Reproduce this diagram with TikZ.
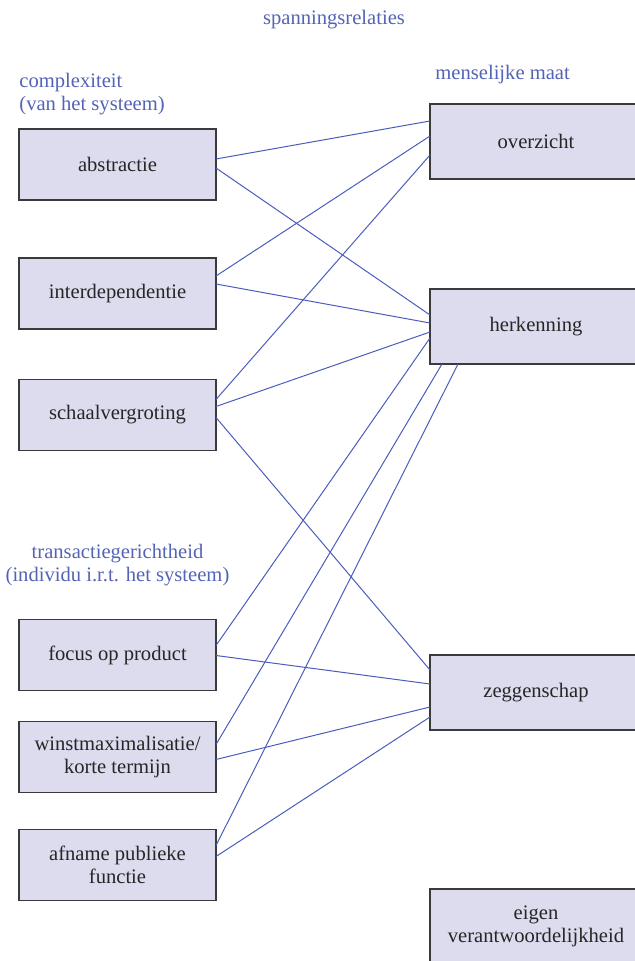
\documentclass[tikz,border=0pt]{standalone}
\usepackage{fontspec}
\setmainfont{Liberation Serif}
\usetikzlibrary{calc}
\definecolor{linkblue}{HTML}{4A5DBB}
\definecolor{headblue}{HTML}{5363B5}
\definecolor{boxfill}{HTML}{DCDCEE}
\definecolor{boxline}{HTML}{3A3A3A}
\tikzset{
  box/.style={draw=boxline, fill=boxfill, line width=0.65pt, rectangle, outer sep=0pt,
    align=center, text=black!85, font=\fontsize{10.3}{11.3}\selectfont},
  lbox/.style={box, minimum width=98.5pt, minimum height=35.5pt},
  rbox/.style={box, minimum width=106pt, minimum height=37.5pt},
  head/.style={text=headblue, font=\fontsize{10.3}{11.5}\selectfont, inner sep=0pt},
  link/.style={draw=linkblue, line width=0.5pt}
}
\begin{document}
\begin{tikzpicture}[x=0.5pt, y=-0.5pt]
\useasboundingbox (0,0) rectangle (635,961);
\begin{scope}
\clip (0,0) rectangle (635,961);
% headings
\node[head] (title) at (334,20) {spanningsrelaties};
\node[head, anchor=west, align=left] (compl) at (19,94) {complexiteit\\(van het systeem)};
\node[head, anchor=west] (mens) at (435,75) {menselijke maat};
\node[head, align=center] (trans) at (117.5,565) {transactiegerichtheid\\(individu i.r.t. het systeem)};
% left boxes
\node[lbox] (abs) at (117.5,164.5) {abstractie};
\node[lbox] (inter) at (117.5,293.5) {interdependentie};
\node[lbox] (schaal) at (117.5,415) {schaalvergroting};
\node[lbox] (focus) at (117.5,655) {focus op product};
\node[lbox] (winst) at (117.5,757) {winstmaximalisatie/\\korte termijn};
\node[lbox] (afname) at (117.5,865) {afname publieke\\functie};
% right boxes
\node[rbox] (over) at (536,141.5) {overzicht};
\node[rbox] (herk) at (536,326.5) {herkenning};
\node[rbox] (zeg) at (536,692.5) {zeggenschap};
\node[rbox] (eigen) at (536,926.5) {eigen\\verantwoordelijkheid};
% connectors
\draw[link] ($(abs.north east)+(0,30)$) -- ($(over.north west)+(0,17)$);
\draw[link] ($(abs.north east)+(0,39)$) -- ($(herk.north west)+(0,26)$);
\draw[link] ($(inter.north east)+(0,18)$) -- ($(over.north west)+(0,32)$);
\draw[link] ($(inter.north east)+(0,26)$) -- ($(herk.north west)+(0,34)$);
\draw[link] ($(schaal.north east)+(0,20)$) -- ($(over.north west)+(0,51)$);
\draw[link] ($(schaal.north east)+(0,27)$) -- ($(herk.north west)+(0,43)$);
\draw[link] ($(schaal.north east)+(0,38)$) -- ($(zeg.north west)+(0,15)$);
\draw[link] ($(focus.north east)+(0,26)$) -- ($(herk.north west)+(0,49)$);
\draw[link] ($(focus.north east)+(0,36)$) -- ($(zeg.north west)+(0,29)$);
\draw[link] ($(winst.north east)+(0,23)$) -- ($(herk.south west)+(12,0)$);
\draw[link] ($(winst.north east)+(0,38)$) -- ($(zeg.north west)+(0,52)$);
\draw[link] ($(afname.north east)+(0,16)$) -- ($(herk.south west)+(28,0)$);
\draw[link] ($(afname.north east)+(0,27)$) -- ($(zeg.north west)+(0,62)$);
\end{scope}
\end{tikzpicture}
\end{document}
